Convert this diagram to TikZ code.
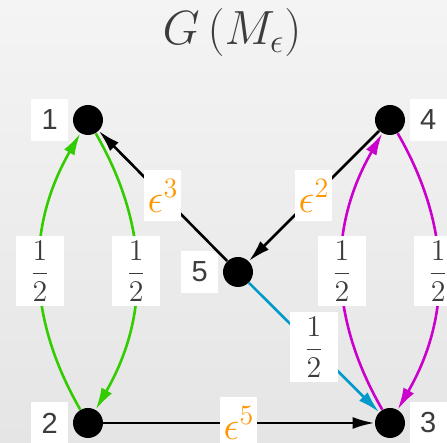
\RequirePackage{fix-cm}
\documentclass[tikz,border=0pt]{standalone}
\usepackage{amsmath}
\usepackage{fontspec}
\newfontfamily\numfont{Liberation Sans}
\usetikzlibrary{arrows.meta,positioning}

\definecolor{bgtop}{RGB}{244,244,244}
\definecolor{bgbot}{RGB}{229,229,229}
\definecolor{textgray}{RGB}{60,60,60}
\definecolor{epsorange}{RGB}{255,150,0}
\definecolor{edgegreen}{RGB}{51,204,0}
\definecolor{edgemagenta}{RGB}{204,0,204}
\definecolor{edgeblue}{RGB}{0,153,204}

\begin{document}
\begin{tikzpicture}[
	x=0.5pt, y=0.5pt,
	vertex/.style={circle, fill=black, minimum size=15pt, inner sep=0pt},
	vname/.style={fill=white, text=textgray, minimum width=18.5pt, minimum height=21pt, inner sep=0pt, font=\numfont\fontsize{14.5}{14.5}\selectfont},
	wlabel/.style={fill=white, text=textgray, minimum width=24pt, minimum height=35pt, inner sep=0pt, font=\fontsize{15}{15}\selectfont},
	elabel/.style={fill=white, text=epsorange, minimum width=18.5pt, minimum height=25.5pt, inner sep=0pt, font=\fontsize{20}{20}\selectfont},
	arr/.style={-{Latex[length=11pt,width=6pt]}, line width=1.3pt}
	]
	\clip (0,0) rectangle (447,443);
	\shade[top color=bgtop, bottom color=bgbot] (0,0) rectangle (447,443);
	
	\node[text=textgray, font=\fontsize{24}{24}\selectfont] (title) at (232,410) {$G\left(M_{\epsilon}\right)$};
	
	% vertices
	\node[vertex] (v1) at (88,323) {};
	\node[vertex] (v4) at (390,323) {};
	\node[vertex] (v5) at (238,171) {};
	\node[vertex] (v2) at (88,20) {};
	\node[vertex] (v3) at (390,20) {};
	
	\node[vname, left=2pt of v1] (n1) {1};
	\node[vname, right=2pt of v4] (n4) {4};
	\node[vname, left=2pt of v5] (n5) {5};
	\node[vname, left=2pt of v2] (n2) {2};
	\node[vname, right=2pt of v3] (n3) {3};
	
	% edges
	\draw[arr, edgegreen] (v2) to[bend left=30] node[wlabel] {$\dfrac{1}{2}$} (v1);
	\draw[arr, edgegreen] (v1) to[bend left=30] node[wlabel] {$\dfrac{1}{2}$} (v2);
	\draw[arr, edgemagenta] (v3) to[bend left=30] node[wlabel] {$\dfrac{1}{2}$} (v4);
	\draw[arr, edgemagenta] (v4) to[bend left=30] node[wlabel] {$\dfrac{1}{2}$} (v3);
	
	\draw[arr] (v5) -- node[elabel] {$\epsilon^{3}$} (v1);
	\draw[arr] (v4) -- node[elabel] {$\epsilon^{2}$} (v5);
	\draw[arr, edgeblue] (v5) -- node[wlabel] {$\dfrac{1}{2}$} (v3);
	\draw[arr] (v2) -- node[elabel] {$\epsilon^{5}$} (v3);
	
\end{tikzpicture}
\end{document}
